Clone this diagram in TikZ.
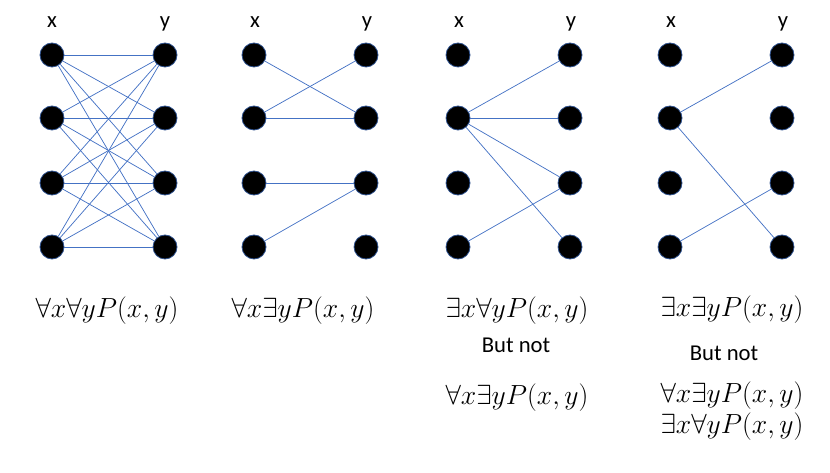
\documentclass[tikz,border=0pt]{standalone}
\usepackage{fontspec}
\newfontfamily\calfont{Carlito}
\usepackage{tikz}

\definecolor{edgeblue}{RGB}{68,114,196}
\definecolor{rimblue}{RGB}{47,82,143}

\tikzset{
  dot/.style={draw=rimblue,fill=black,circle,minimum size=18pt,inner sep=0pt,line width=0.6pt},
  link/.style={draw=edgeblue,line width=0.55pt},
  varname/.style={font=\calfont\fontsize{17}{20}\selectfont,anchor=base,inner sep=0pt},
  formula/.style={font=\fontsize{20}{24}\selectfont,inner sep=0pt},
  butnot/.style={font=\calfont\fontsize{17}{20}\selectfont,anchor=base,inner sep=0pt}
}

\begin{document}
\begin{tikzpicture}[x=0.75pt,y=-0.75pt]
\useasboundingbox (0,0) rectangle (830,473);
% panel a
\node[varname] (axlab) at (52,28) {x};
\node[varname] (aylab) at (165,28) {y};
\node[dot] (ax1) at (52,55) {};
\node[dot] (ax2) at (52,118) {};
\node[dot] (ax3) at (52,183) {};
\node[dot] (ax4) at (52,247) {};
\node[dot] (ay1) at (165,55) {};
\node[dot] (ay2) at (165,118) {};
\node[dot] (ay3) at (165,183) {};
\node[dot] (ay4) at (165,247) {};
\draw[link] (ax1) -- (ay1);
\draw[link] (ax1) -- (ay2);
\draw[link] (ax1) -- (ay3);
\draw[link] (ax1) -- (ay4);
\draw[link] (ax2) -- (ay1);
\draw[link] (ax2) -- (ay2);
\draw[link] (ax2) -- (ay3);
\draw[link] (ax2) -- (ay4);
\draw[link] (ax3) -- (ay1);
\draw[link] (ax3) -- (ay2);
\draw[link] (ax3) -- (ay3);
\draw[link] (ax3) -- (ay4);
\draw[link] (ax4) -- (ay1);
\draw[link] (ax4) -- (ay2);
\draw[link] (ax4) -- (ay3);
\draw[link] (ax4) -- (ay4);
\node[formula] (aform) at (107,311) {$\forall x\forall yP(x,y)$};
% panel b
\node[varname] (bxlab) at (255,28) {x};
\node[varname] (bylab) at (367,28) {y};
\node[dot] (bx1) at (254,55) {};
\node[dot] (bx2) at (254,118) {};
\node[dot] (bx3) at (254,183) {};
\node[dot] (bx4) at (254,247) {};
\node[dot] (by1) at (366,55) {};
\node[dot] (by2) at (366,118) {};
\node[dot] (by3) at (366,183) {};
\node[dot] (by4) at (366,247) {};
\draw[link] (bx1) -- (by2);
\draw[link] (bx2) -- (by1);
\draw[link] (bx2) -- (by2);
\draw[link] (bx3) -- (by3);
\draw[link] (bx4) -- (by3);
\node[formula] (bform) at (303,311) {$\forall x\exists yP(x,y)$};
% panel c
\node[varname] (cxlab) at (459,28) {x};
\node[varname] (cylab) at (571,28) {y};
\node[dot] (cx1) at (458,55) {};
\node[dot] (cx2) at (458,118) {};
\node[dot] (cx3) at (458,183) {};
\node[dot] (cx4) at (458,247) {};
\node[dot] (cy1) at (570,55) {};
\node[dot] (cy2) at (570,118) {};
\node[dot] (cy3) at (570,183) {};
\node[dot] (cy4) at (570,247) {};
\draw[link] (cx2) -- (cy1);
\draw[link] (cx2) -- (cy2);
\draw[link] (cx2) -- (cy3);
\draw[link] (cx2) -- (cy4);
\draw[link] (cx4) -- (cy3);
\node[formula] (cform) at (517,311) {$\exists x\forall yP(x,y)$};
\node[butnot] (cnot) at (516,353) {But not};
\node[formula] (cform2) at (517,398) {$\forall x\exists yP(x,y)$};
% panel d
\node[varname] (dxlab) at (671,28) {x};
\node[varname] (dylab) at (783,28) {y};
\node[dot] (dx1) at (670,55) {};
\node[dot] (dx2) at (670,118) {};
\node[dot] (dx3) at (670,183) {};
\node[dot] (dx4) at (670,247) {};
\node[dot] (dy1) at (782,55) {};
\node[dot] (dy2) at (782,118) {};
\node[dot] (dy3) at (782,183) {};
\node[dot] (dy4) at (782,247) {};
\draw[link] (dx2) -- (dy1);
\draw[link] (dx2) -- (dy4);
\draw[link] (dx4) -- (dy3);
\node[formula] (dform) at (732,310) {$\exists x\exists yP(x,y)$};
\node[butnot] (dnot) at (724,360) {But not};
\node[formula] (dform2) at (732,396) {$\forall x\exists yP(x,y)$};
\node[formula] (dform3) at (732,427) {$\exists x\forall yP(x,y)$};
\end{tikzpicture}
\end{document}
